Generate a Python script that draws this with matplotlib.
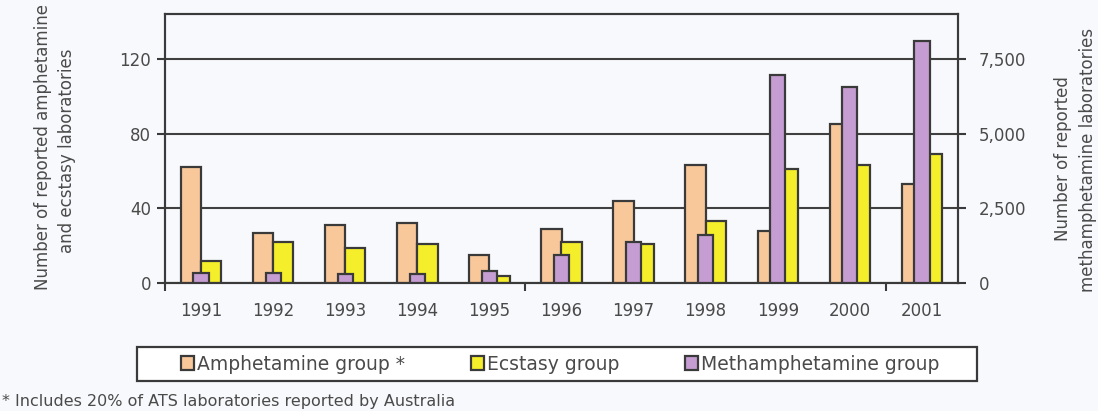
import matplotlib
matplotlib.use("Agg")
import matplotlib.pyplot as plt
from matplotlib.patches import Patch, Rectangle
from matplotlib.ticker import FuncFormatter, FixedLocator
import numpy as np

years = ["1991", "1992", "1993", "1994", "1995", "1996",
         "1997", "1998", "1999", "2000", "2001"]
amphetamine = [62, 27, 31, 32, 15, 29, 44, 63, 28, 85, 53]
ecstasy = [12, 22, 19, 21, 4, 22, 21, 33, 61, 63, 69]
methamphetamine = [350, 350, 290, 315, 390, 950, 1370, 1620, 6950, 6560, 8100]

left_ticks = [0, 40, 80, 120]
right_ticks = [0, 2500, 5000, 7500]

C_AMPH = "#f9c89a"
C_ECST = "#f5ee2a"
C_METH = "#c69dd2"
EDGE = "#3a3a3a"
TXT = "#4a4a4a"
BG = "#f8f9fc"

plt.rcParams["font.family"] = ["DejaVu Sans"]

W, H = 1098, 411
fig = plt.figure(figsize=(W / 100, H / 100), dpi=100, facecolor=BG)
ax = fig.add_axes([165 / W, 1 - 283 / H, (958 - 165) / W, (283 - 14) / H])
ax.set_facecolor(BG)
ax2 = ax.twinx()
ax2.patch.set_visible(False)

x = np.arange(len(years))
w = 0.28
wm = 0.21

ax.bar(x - w / 2, amphetamine, w, color=C_AMPH, edgecolor=EDGE, linewidth=1.6, zorder=3)
ax.bar(x + w / 2, ecstasy, w, color=C_ECST, edgecolor=EDGE, linewidth=1.6, zorder=3)
ax2.bar(x, methamphetamine, wm, color=C_METH, edgecolor=EDGE, linewidth=1.6, zorder=3)

ax.set_xlim(-0.5, len(years) - 0.5)
ax.set_ylim(0, 144)
ax2.set_ylim(0, 9000)

ax.set_yticks(left_ticks)
ax2.set_yticks(right_ticks)
ax2.yaxis.set_major_formatter(FuncFormatter(lambda v, p: f"{int(v):,}"))

ax.set_xticks(x)
ax.set_xticklabels(years)
ax.xaxis.set_minor_locator(FixedLocator([-0.5, 4.5, 9.5]))
ax.tick_params(axis="x", which="major", length=0, pad=14, labelsize=12, labelcolor=TXT)
ax.tick_params(axis="x", which="minor", length=6, width=1.5, color=EDGE, direction="out")
ax.tick_params(axis="y", length=6, width=1.5, color=EDGE, pad=4, labelsize=12, labelcolor=TXT)
ax2.tick_params(axis="y", length=6, width=1.5, color=EDGE, pad=9, labelsize=12, labelcolor=TXT)

for a in (ax, ax2):
    for s in a.spines.values():
        s.set_color(EDGE)
        s.set_linewidth(1.5)

ax.yaxis.grid(True, color="#404040", linewidth=1.5, zorder=0)
ax.set_axisbelow(True)

fig.text(43 / W, 1 - 147 / H, "Number of reported amphetamine",
         rotation=90, ha="center", va="center", fontsize=12, color=TXT)
fig.text(67 / W, 1 - 151 / H, "and ecstasy laboratories",
         rotation=90, ha="center", va="center", fontsize=12, color=TXT)
fig.text(1063 / W, 1 - 159 / H, "Number of reported",
         rotation=90, ha="center", va="center", fontsize=12, color=TXT)
fig.text(1088 / W, 1 - 160 / H, "methamphetamine laboratories",
         rotation=90, ha="center", va="center", fontsize=12, color=TXT)

# legend: framed box below the plot with three entries
fig.patches.append(Rectangle((137 / W, 1 - 381 / H), 840 / W, 34 / H,
                             transform=fig.transFigure, facecolor="white",
                             edgecolor=EDGE, linewidth=1.6, zorder=1))
handles = [Patch(facecolor=C_AMPH, edgecolor=EDGE, linewidth=1.6),
           Patch(facecolor=C_ECST, edgecolor=EDGE, linewidth=1.6),
           Patch(facecolor=C_METH, edgecolor=EDGE, linewidth=1.6)]
labels = ["Amphetamine group *", "Ecstasy group", "Methamphetamine group"]
leg = fig.legend(handles, labels, loc="center",
                 bbox_to_anchor=(560 / W, 1 - 364 / H),
                 ncol=3, fontsize=13.5, frameon=False,
                 handlelength=0.7, handleheight=0.7, handletextpad=0.15,
                 columnspacing=3.5, borderpad=0, borderaxespad=0,
                 labelcolor=TXT)
leg.set_zorder(2)

fig.text(2 / W, 1 - 401 / H, "* Includes 20% of ATS laboratories reported by Australia",
         ha="left", va="center", fontsize=11.5, color=TXT)

fig.savefig("out.png", dpi=100, facecolor=BG)
